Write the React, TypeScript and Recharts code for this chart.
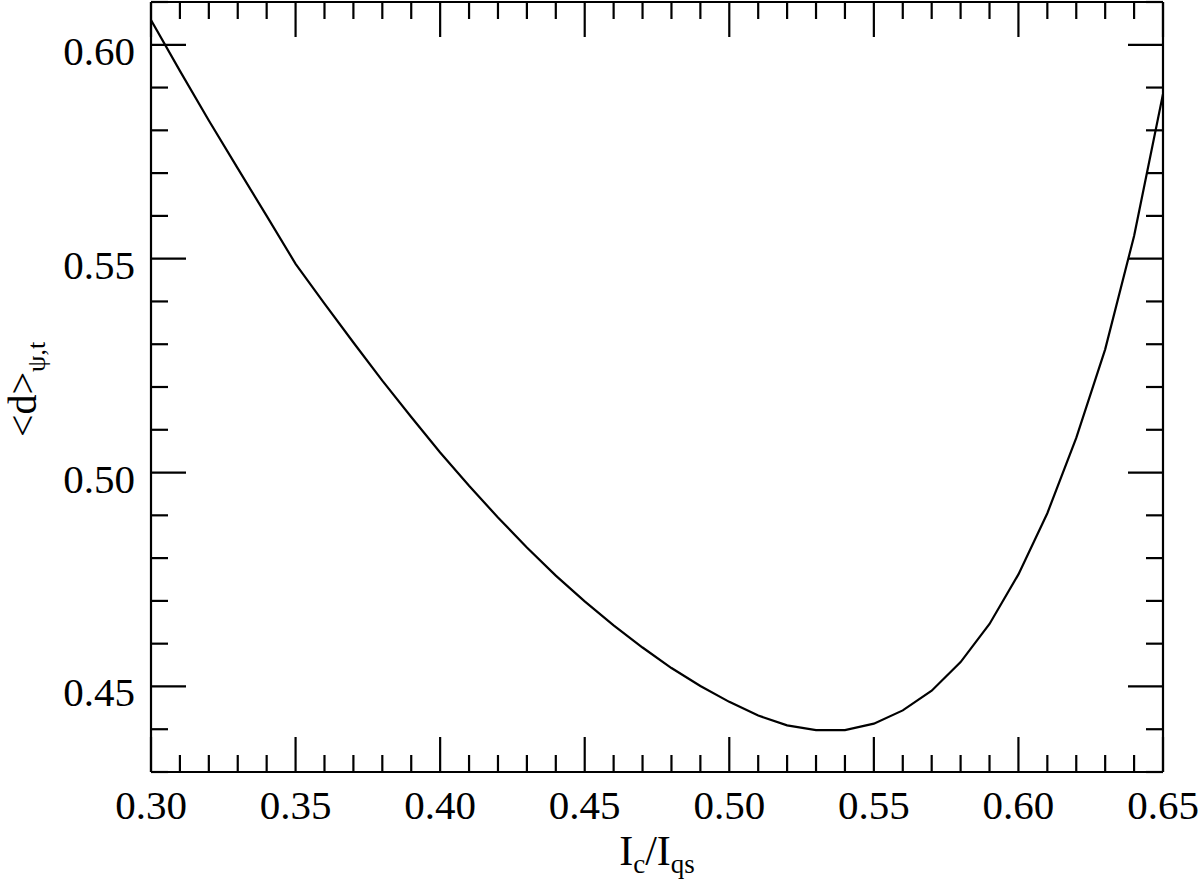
import React from "react";
import { LineChart, Line, XAxis, YAxis } from "recharts";

const IC_RATIO = [
  0.30, 0.31, 0.32, 0.33, 0.34, 0.35, 0.36, 0.37, 0.38, 0.39,
  0.40, 0.41, 0.42, 0.43, 0.44, 0.45, 0.46, 0.47, 0.48, 0.49,
  0.50, 0.51, 0.52, 0.53, 0.54, 0.55, 0.56, 0.57, 0.58, 0.59,
  0.60, 0.61, 0.62, 0.63, 0.64, 0.65,
];

const D_MEAN = [
  0.6058, 0.5939, 0.5823, 0.5711, 0.5600, 0.5488, 0.5395, 0.5304, 0.5215, 0.5130,
  0.5047, 0.4969, 0.4895, 0.4825, 0.4759, 0.4699, 0.4643, 0.4591, 0.4543, 0.4501,
  0.4464, 0.4432, 0.4409, 0.4398, 0.4398, 0.4413, 0.4444, 0.4490, 0.4557, 0.4646,
  0.4762, 0.4905, 0.5081, 0.5288, 0.5553, 0.5885,
];

const X_TICKS = [
  0.30, 0.31, 0.32, 0.33, 0.34, 0.35, 0.36, 0.37, 0.38, 0.39,
  0.40, 0.41, 0.42, 0.43, 0.44, 0.45, 0.46, 0.47, 0.48, 0.49,
  0.50, 0.51, 0.52, 0.53, 0.54, 0.55, 0.56, 0.57, 0.58, 0.59,
  0.60, 0.61, 0.62, 0.63, 0.64, 0.65,
];

const Y_TICKS = [
  0.43, 0.44, 0.45, 0.46, 0.47, 0.48, 0.49, 0.50, 0.51, 0.52,
  0.53, 0.54, 0.55, 0.56, 0.57, 0.58, 0.59, 0.60, 0.61,
];

const data = IC_RATIO.map((x, i) => ({ x, d: D_MEAN[i] }));

const FONT = "'Liberation Serif', 'Times New Roman', serif";
const MAJOR = 35;
const MINOR = 17;
const SW = 2.2;
const isMajor = (v: number) => Math.round(v * 100) % 5 === 0;

// ticks are drawn inward from the axis line; labels only on majors
function BottomTick(props: any) {
  const { x, y, payload } = props;
  const major = isMajor(payload.value);
  return (
    <g>
      <line x1={x} x2={x} y1={y} y2={y - (major ? MAJOR : MINOR)} stroke="#000" strokeWidth={SW} />
      {major && (
        <text x={x} y={y + 47} textAnchor="middle" fontFamily={FONT} fontSize={41} fill="#000">
          {payload.value.toFixed(2)}
        </text>
      )}
    </g>
  );
}

function TopTick(props: any) {
  const { x, y, payload } = props;
  const major = isMajor(payload.value);
  return <line x1={x} x2={x} y1={y} y2={y + (major ? MAJOR : MINOR)} stroke="#000" strokeWidth={SW} />;
}

function LeftTick(props: any) {
  const { x, y, payload } = props;
  const major = isMajor(payload.value);
  return (
    <g>
      <line x1={x} x2={x + (major ? MAJOR : MINOR)} y1={y} y2={y} stroke="#000" strokeWidth={SW} />
      {major && (
        <text x={135} y={y + 20} textAnchor="end" fontFamily={FONT} fontSize={41} fill="#000">
          {payload.value.toFixed(2)}
        </text>
      )}
    </g>
  );
}

function RightTick(props: any) {
  const { x, y, payload } = props;
  const major = isMajor(payload.value);
  return <line x1={x} x2={x - (major ? MAJOR : MINOR)} y1={y} y2={y} stroke="#000" strokeWidth={SW} />;
}

export default function App() {
  const axisLine = { stroke: "#000", strokeWidth: SW };
  return (
    <div style={{ position: "absolute", left: 0, top: 0, width: 1200, height: 884, background: "#fff" }}>
      <LineChart width={1200} height={884} data={data} margin={{ top: 1, right: 36, bottom: 0, left: 0 }}>
        <XAxis
          xAxisId="b" dataKey="x" type="number" domain={[0.3, 0.65]} ticks={X_TICKS} interval={0}
          allowDataOverflow height={112} tickSize={0} tickMargin={0} tickLine={false}
          axisLine={axisLine} tick={<BottomTick />}
        />
        <XAxis
          xAxisId="t" orientation="top" dataKey="x" type="number" domain={[0.3, 0.65]} ticks={X_TICKS}
          interval={0} allowDataOverflow height={1} tickSize={0} tickMargin={0} tickLine={false}
          axisLine={axisLine} tick={<TopTick />}
        />
        <YAxis
          yAxisId="l" type="number" domain={[0.43, 0.61]} ticks={Y_TICKS} interval={0} allowDataOverflow
          width={151} tickSize={0} tickMargin={0} tickLine={false} axisLine={axisLine} tick={<LeftTick />}
        />
        <YAxis
          yAxisId="r" orientation="right" type="number" domain={[0.43, 0.61]} ticks={Y_TICKS} interval={0}
          allowDataOverflow width={1} tickSize={0} tickMargin={0} tickLine={false} axisLine={axisLine}
          tick={<RightTick />}
        />
        <Line
          xAxisId="b" yAxisId="l" type="linear" dataKey="d" stroke="#000" strokeWidth={SW}
          dot={false} activeDot={false} isAnimationActive={false}
        />
        <Line
          xAxisId="t" yAxisId="r" type="linear" dataKey="d" stroke="none"
          dot={false} activeDot={false} isAnimationActive={false}
        />
        <text x={657} y={865} textAnchor="middle" fontFamily={FONT} fontSize={42} fill="#000">
          <tspan>I</tspan>
          <tspan fontSize={27} dy={8}>c</tspan>
          <tspan dy={-8}>/I</tspan>
          <tspan fontSize={27} dy={8}>qs</tspan>
        </text>
        <text x={36} y={437} transform="rotate(-90 36 437)" textAnchor="start" fontFamily={FONT} fontSize={40} fill="#000">
          <tspan>&lt;d&gt;</tspan>
          <tspan fontSize={26} dy={9}>ψ,t</tspan>
        </text>
      </LineChart>
    </div>
  );
}
